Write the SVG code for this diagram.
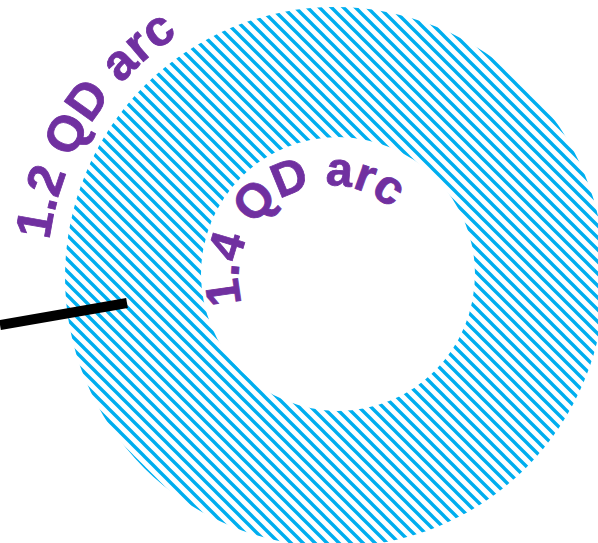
<svg xmlns="http://www.w3.org/2000/svg" width="598" height="543" viewBox="0 0 598 543">
  <style>
    .lbl { font-family: "Liberation Sans", Arial, sans-serif; font-weight: bold; fill: #7030A0; stroke: #7030A0; stroke-width: 0.8; }
    .outer { font-size: 50px; letter-spacing: 0.3px; }
    .inner { font-size: 48px; }
    .conn { stroke: #000000; stroke-width: 10; fill: none; }
  </style>
  <defs>
    <pattern id="hatch" patternUnits="userSpaceOnUse" width="12" height="12">
      <path d="M0,0 L12,12 M-4,8 L4,16 M8,-4 L16,4" stroke="#00AEEF" stroke-width="3.4" fill="none"/>
    </pattern>
    <path id="outerArc" d="M335,565 A288,288 0 0 1 335,-11 A288,288 0 0 1 335,565"/>
    <path id="innerArc" d="M330,368.6 A91.6,91.6 0 0 1 330,185.4 A91.6,91.6 0 0 1 330,368.6"/>
  </defs>
  <g id="ring">
    <path d="M65,277 A270,270 0 1 1 605,277 A270,270 0 1 1 65,277 Z M201,274 A137,137 0 1 0 475,274 A137,137 0 1 0 201,274 Z" fill="url(#hatch)" fill-rule="evenodd"/>
  </g>
  <g id="label-outer">
    <text class="lbl outer"><textPath href="#outerArc" startOffset="489">1.2 QD arc</textPath></text>
  </g>
  <g id="label-inner">
    <text class="lbl inner"><textPath href="#innerArc" startOffset="117">1.4 QD arc</textPath></text>
  </g>
  <g id="connectors">
    <line class="conn" x1="0" y1="325" x2="127" y2="303"/>
  </g>
</svg>
